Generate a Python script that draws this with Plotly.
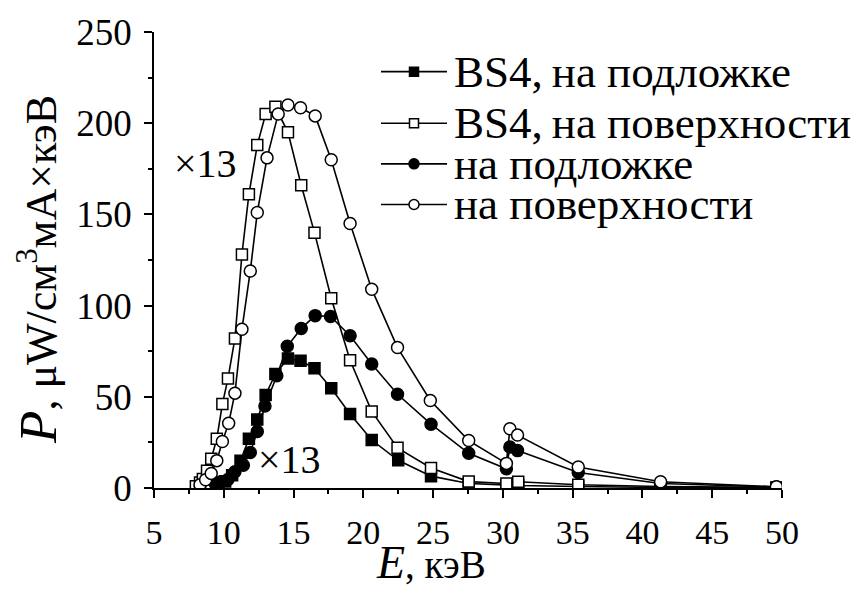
import plotly.graph_objects as go

# Photon energy E (keV) and emitted power P for each sample / position
E_BS4_SUB = [9.6, 10.1, 10.6, 11.2, 11.8, 12.4, 13.0, 13.7, 14.6, 15.5, 16.5, 17.7,
             19.05, 20.6, 22.5, 24.85, 27.55, 30.25, 31.1, 35.4, 41.3, 49.6]
P_BS4_SUB = [1.5, 3.5, 7, 15, 27, 37.5, 51, 62.5, 71, 69.8, 65.6, 54.7,
             40.6, 26.3, 15.2, 6.5, 2.5, 1.5, 1.4, 0.8, 0.3, 0.1]

E_BS4_SURF = [8.0, 8.3, 8.5, 8.8, 9.1, 9.5, 9.9, 10.3, 10.8, 11.3, 11.8, 12.4, 13.0, 13.7,
              14.6, 15.55, 16.5, 17.7, 19.05, 20.6, 22.45, 24.85, 27.55, 30.25, 31.1,
              35.4, 41.3, 49.6]
P_BS4_SURF = [1, 3, 5, 9.5, 16, 27, 46, 60, 82, 128, 161, 188, 205, 209,
              195, 166, 140, 104, 70, 42, 22, 11, 3.5, 2.5, 3.4,
              1.8, 0.8, 0.3]

E_SUB = [9.4, 9.8, 10.3, 10.8, 11.4, 11.9, 12.4, 12.95, 13.8, 14.55, 15.55, 16.55, 17.65,
         19.05, 20.6, 22.45, 24.85, 27.55, 30.25, 30.5, 31.05, 35.4, 41.3, 49.6]
P_SUB = [2.2, 3.4, 4.7, 8.9, 12.5, 19.5, 31, 45, 61.5, 77.7, 87.5, 94.5, 94,
         83.5, 68, 51.4, 35, 19, 10.5, 22.5, 20.5, 8.5, 2.5, 0.5]

E_SURF = [8.3, 8.7, 9.1, 9.5, 9.9, 10.35, 10.8, 11.3, 11.9, 12.4, 13.1, 13.9, 14.6, 15.5,
          16.55, 17.7, 19.05, 20.6, 22.45, 24.8, 27.55, 30.25, 30.5, 31.05, 35.4, 41.3, 49.6]
P_SURF = [1.8, 4.5, 8, 15, 25.5, 35.5, 52, 87, 119, 151, 181, 205, 210, 208.5,
          204, 180, 145, 109, 77, 48, 26, 13.5, 32.5, 29, 11.5, 3.4, 0.7]

LABEL_PREFIX = ["BS4,\u2009", "BS4,\u2009", "", ""]
LABEL_TEXT = ["на подложке", "на поверхности", "на подложке", "на поверхности"]

X_TICKS = [5, 10, 15, 20, 25, 30, 35, 40, 45, 50]
Y_TICKS = [0, 50, 100, 150, 200, 250]

X_TITLE = "<span style='font-size:46px'><i>E</i></span>, кэВ"
Y_TITLE = "<span style='font-size:53px'><i>P</i></span>, μW/см<sup>3</sup>мА×кэВ"
SCALE_NOTE = "×13"

FONT = "Times New Roman, Liberation Serif, serif"

series = [
    (E_BS4_SUB, P_BS4_SUB, "square", "black", 11),
    (E_BS4_SURF, P_BS4_SURF, "square", "white", 11),
    (E_SUB, P_SUB, "circle", "black", 12),
    (E_SURF, P_SURF, "circle", "white", 12),
]

fig = go.Figure()

for xs, ys, sym, fill, size in series:
    fig.add_trace(go.Scatter(
        x=xs, y=ys, mode="lines+markers",
        line=dict(color="black", width=1.6),
        marker=dict(symbol=sym, size=size, color=fill,
                    line=dict(color="black", width=1.5)),
        showlegend=False, hoverinfo="skip",
    ))

# Legend drawn on an overlay axis whose units are pixels of the plot area
LEG_X0, LEG_X1, LEG_TEXT_X = 381, 447, 452
LEG_ROWS = [68, 120, 161, 202]
for (xs, ys, sym, fill, size), row, pre, txt in zip(series, LEG_ROWS, LABEL_PREFIX, LABEL_TEXT):
    fig.add_trace(go.Scatter(
        x=[LEG_X0, LEG_X1], y=[row, row], mode="lines",
        line=dict(color="black", width=1.6),
        xaxis="x2", yaxis="y2", showlegend=False, hoverinfo="skip", cliponaxis=False,
    ))
    fig.add_trace(go.Scatter(
        x=[(LEG_X0 + LEG_X1) / 2], y=[row], mode="markers",
        marker=dict(symbol=sym, size=size - 2, color=fill,
                    line=dict(color="black", width=1.5)),
        xaxis="x2", yaxis="y2", showlegend=False, hoverinfo="skip", cliponaxis=False,
    ))
    fig.add_annotation(
        x=LEG_TEXT_X, y=row, xref="x2", yref="y2", xanchor="left", yanchor="middle",
        text=pre + txt, showarrow=False,
        font=dict(family=FONT, size=45, color="black"),
    )

axis_common = dict(
    ticks="outside", ticklen=8, tickwidth=1.5, tickcolor="black",
    showline=True, linewidth=1.6, linecolor="black",
    showgrid=False, zeroline=False,
)

fig.update_layout(
    width=854, height=589,
    margin=dict(l=154, r=72, t=28, b=101),
    plot_bgcolor="white", paper_bgcolor="white",
    font=dict(family=FONT, color="black"),
    xaxis=dict(range=[5, 50], tickvals=X_TICKS, ticklabelstandoff=5,
               tickfont=dict(family=FONT, size=34, color="black"),
               minor=dict(dtick=2.5, tick0=5, ticks="outside", ticklen=4,
                          tickwidth=1.5, tickcolor="black"),
               **axis_common),
    yaxis=dict(range=[0, 250], tickvals=Y_TICKS, ticklabelstandoff=5,
               tickfont=dict(family=FONT, size=37, color="black"),
               minor=dict(dtick=25, tick0=0, ticks="outside", ticklen=4,
                          tickwidth=1.5, tickcolor="black"),
               **axis_common),
    xaxis2=dict(overlaying="x", anchor="y2", range=[154, 782], visible=False),
    yaxis2=dict(overlaying="y", anchor="x2", range=[488, 28], visible=False),
)

# Axis titles
fig.add_annotation(
    x=0.441, y=-0.163, xref="paper", yref="paper", xanchor="center", yanchor="middle",
    text=X_TITLE, showarrow=False, font=dict(family=FONT, size=39, color="black"),
)
fig.add_annotation(
    x=-0.185, y=0.48, xref="paper", yref="paper", xanchor="center", yanchor="middle",
    text=Y_TITLE, textangle=-90, showarrow=False,
    font=dict(family=FONT, size=44, color="black"),
)

# Scale factor notes next to the curves
fig.add_annotation(x=8.66, y=178, xref="x", yref="y", text=SCALE_NOTE, showarrow=False,
                   font=dict(family=FONT, size=40, color="black"))
fig.add_annotation(x=14.68, y=15.8, xref="x", yref="y", text=SCALE_NOTE, showarrow=False,
                   font=dict(family=FONT, size=40, color="black"))

fig.write_html("out.html")
